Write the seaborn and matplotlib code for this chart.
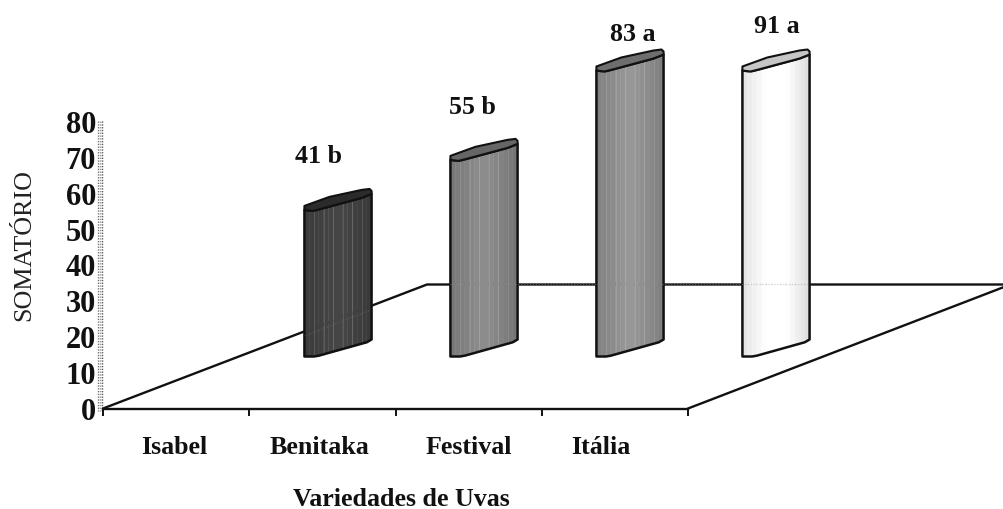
import numpy as np
import pandas as pd
import matplotlib
matplotlib.use('Agg')
import matplotlib.pyplot as plt
import matplotlib.transforms as mtrans
import seaborn as sns
from matplotlib.patches import Polygon

# data
variedades = ['Isabel', 'Benitaka', 'Festival', 'Itália']
somatorio = [41, 55, 83, 91]
rotulos = ['41 b', '55 b', '83 a', '91 a']
cores = ['#404040', '#828282', '#8c8c8c', '#f6f6f6']
cores_topo = ['#2b2b2b', '#666666', '#6e6e6e', '#c6c6c6']
y_ticks = list(range(0, 90, 10))

W, H = 1004, 510
PX = 286 / 80  # pixels per unit

sns.set_theme(style='white')
plt.rcParams['font.family'] = ['Liberation Serif', 'DejaVu Serif']

fig = plt.figure(figsize=(W / 100, H / 100), dpi=100)


def rect(x0, y_top, x1, y_bot):
    return [x0 / W, 1 - y_bot / H, (x1 - x0) / W, (y_bot - y_top) / H]


## floor, drawn in pixels
ax_floor = fig.add_axes([0, 0, 1, 1], zorder=1)
ax_floor.set_xlim(0, W)
ax_floor.set_ylim(H, 0)
ax_floor.axis('off')
ax_floor.plot([103, 427, 1004], [409.5, 285.5, 285.5], color='#111111', lw=1.7)
ax_floor.plot([688, 1004], [409.5, 288], color='#111111', lw=1.7)
# dotted band of the value axis
for xb, cb in [(98.5, '#777777'), (100.5, '#999999'), (102.5, '#555555')]:
    ax_floor.plot([xb, xb], [122, 412], color=cb, lw=1.0, ls=(0, (1, 1)))

## scale axis, labels sit on the front edge of the floor
ax_scale = fig.add_axes(rect(103, 122.5, 688, 409.5), zorder=2)
ax_scale.patch.set_alpha(0)
ax_scale.set_xlim(0, 4)
ax_scale.set_ylim(0, 80)
sns.despine(ax=ax_scale, left=True)
ax_scale.spines['bottom'].set_linewidth(1.7)
ax_scale.spines['bottom'].set_color('#111111')
ax_scale.set_yticks(y_ticks)
ax_scale.set_yticklabels(y_ticks, fontsize=22, fontweight='bold', color='#111111')
ax_scale.tick_params(axis='y', length=0, pad=5)
desce = mtrans.ScaledTranslation(0, -3 / 100, fig.dpi_scale_trans)
for lab in ax_scale.get_yticklabels():
    lab.set_verticalalignment('center')
    lab.set_transform(lab.get_transform() + desce)
ax_scale.set_xticks(range(5))
ax_scale.set_xticklabels([])
ax_scale.tick_params(axis='x', which='major', length=5, width=1.4, color='#111111', direction='out', bottom=True)
ax_scale.set_xticks([0.49, 1.48, 2.5, 3.4], minor=True)
ax_scale.set_xticklabels(variedades, minor=True, fontsize=18.7, fontweight='bold', color='#111111')
ax_scale.tick_params(axis='x', which='minor', length=0, pad=19)
ax_scale.set_xlabel('Variedades de Uvas', fontsize=18.7, fontweight='bold', color='#111111', va='center')
ax_scale.xaxis.set_label_coords((401 - 103) / 585, -(498.5 - 409) / 287)
ax_scale.set_ylabel('SOMATÓRIO', fontsize=18.7, color='#222222', va='center')
ax_scale.yaxis.set_label_coords((24 - 103) / 585, (409 - 245) / 287)

## bars
df = pd.DataFrame({'variedade': variedades, 'somatorio': somatorio})
ax_bars = fig.add_axes(rect(265, 71.5, 849, 357.5), zorder=3)
ax_bars.patch.set_alpha(0)
sns.barplot(data=df, x='variedade', y='somatorio', hue='variedade', palette=cores,
            legend=False, width=0.46, saturation=1, ax=ax_bars)
ax_bars.set_xlim(-0.5, 3.5)
ax_bars.set_ylim(0, 80)
ax_bars.axis('off')

# perspective shape of a bar, rise in pixels along its width
t_base = [0, 0.17, 0.97, 1]
rise_base = [0, 0, 15, 17]
t_top = [0, 0.12, 0.24, 0.85, 1]
rise_top = [0, -1, 1, 12, 16]
t_cap = [0, 0.37, 0.85, 0.97, 1]
rise_cap = [4, 13, 20, 21, 19]
t_strip = np.linspace(0, 1, 15)
shade = [0.93, 0.96, 0.98, 1.0, 1.03, 1.06, 1.08, 1.08, 1.06, 1.03, 1.0, 0.97, 0.94, 0.91]

for i, patch in enumerate(ax_bars.patches):
    x0, w = patch.get_x(), patch.get_width()
    h = min(patch.get_height(), 80)  # bars stop at the top of the scale
    base = patch.get_facecolor()[0]
    patch.set_visible(False)
    bot = np.interp(t_strip, t_base, rise_base) / PX
    top = h + np.interp(t_strip, t_top, rise_top) / PX
    xs = x0 + w * t_strip
    for k in range(len(t_strip) - 1):
        g = min(base * shade[k], 1)
        ax_bars.add_patch(Polygon([(xs[k], bot[k]), (xs[k + 1], bot[k + 1]),
                                   (xs[k + 1], top[k + 1]), (xs[k], top[k])],
                                  facecolor=(g, g, g), edgecolor=(g, g, g), lw=0.3, clip_on=False))
        # thin lighter seams between the facets
        if k % 2 == 1:
            ax_bars.plot([xs[k + 1], xs[k + 1]], [bot[k + 1], top[k + 1]], color='white',
                         lw=0.6, alpha=0.16, clip_on=False, zorder=3)
    # outline of the front
    outline = list(zip(xs, bot)) + list(zip(xs[::-1], top[::-1]))
    ax_bars.add_patch(Polygon(outline, closed=True, fill=False, edgecolor='#111111', lw=1.8,
                              joinstyle='round', clip_on=False, zorder=4))
    # cap
    t_c = np.array(t_top + t_cap[::-1])
    r_c = np.array(rise_top + rise_cap[::-1])
    ax_bars.add_patch(Polygon(np.column_stack([x0 + w * t_c, h + r_c / PX]), closed=True,
                              facecolor=cores_topo[i], edgecolor='#111111', lw=1.5,
                              joinstyle='round', clip_on=False, zorder=4))

# value labels, anchored on the bars
deslocamento = [(-19, 54), (-12, 53), (2.5, 37), (1, 45)]
for i, (v, txt) in enumerate(zip(somatorio, rotulos)):
    dx, dy = deslocamento[i]
    ax_bars.annotate(txt, xy=(i, min(v, 80)), xytext=(dx, dy), textcoords='offset pixels',
                     ha='center', va='center', fontsize=18.7, fontweight='bold',
                     color='#111111', annotation_clip=False)

# faint trace of the floor lines seen through the bars
ax_over = fig.add_axes([0, 0, 1, 1], zorder=5)
ax_over.patch.set_alpha(0)
ax_over.set_xlim(0, W)
ax_over.set_ylim(H, 0)
ax_over.axis('off')
ax_over.plot([305, 371], [337, 311], color='#777777', lw=0.8, ls=':', alpha=0.5)
ax_over.plot([450, 809], [285, 285], color='#999999', lw=0.8, ls=':', alpha=0.5)

fig.savefig('out.png', dpi=100)
